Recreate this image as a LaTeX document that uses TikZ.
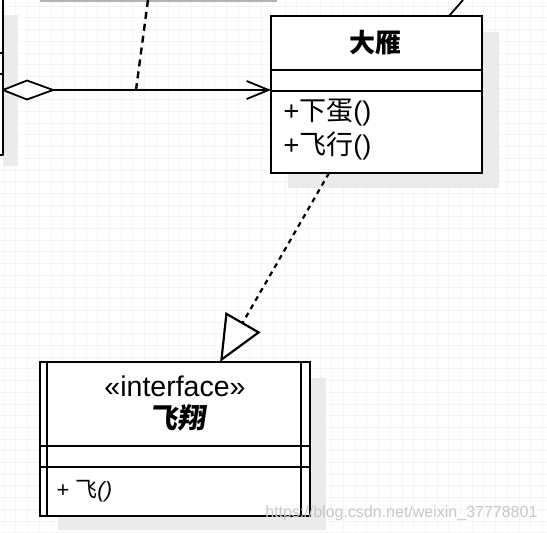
\documentclass[tikz,border=0pt]{standalone}
\usepackage{fontspec}
\setmainfont{Liberation Sans}
\newfontfamily\cjk{Noto Sans CJK SC}
\newfontfamily\cjksl{Noto Sans CJK SC}[FakeSlant=0.15]
\usetikzlibrary{arrows.meta,calc}
\begin{document}
\begin{tikzpicture}[x=1pt,y=-1pt,
  umlbox/.style={draw, line width=1.8pt, fill=white, inner sep=0pt, outer sep=0pt, anchor=north west},
  umlline/.style={line width=1.8pt, line join=round},
  shade/.style={fill=black!8, draw=none},
  gridline/.style={black!4, line width=0.6pt},
  notedash/.style={line width=2.4pt, dash pattern=on 7pt off 5pt},
  realdash/.style={line width=2.2pt, dash pattern=on 5pt off 4.5pt},
  cjkbig/.style={font=\cjk\bfseries\fontsize{26}{26}\selectfont},
  methodtext/.style={anchor=west, font=\fontsize{27}{27}\selectfont},
  stereo/.style={font=\fontsize{28.5}{28.5}\selectfont}
]
\useasboundingbox (0,0) rectangle (547,533);
\fill[white] (0,0) rectangle (547,533);
% faint grid
\foreach \i in {0,...,46} {
  \draw[gridline] (\i*11.7+4,0) -- (\i*11.7+4,533);
}
\foreach \j in {0,...,45} {
  \draw[gridline] (0,\j*11.7+6) -- (547,\j*11.7+6);
}
% shadows
\fill[shade] (3,15) rectangle (18,166);
\fill[shade] (288,32) rectangle (499,188);
\fill[shade] (58,378) rectangle (326,530);
% upper box edge (cropped)
\draw[black!30, line width=2pt] (40,0.8) -- (277,0.8);
% left cropped box
\draw[umlline] (3,0) -- (3,155) -- (0,155);
\draw[umlline] (0,53) -- (3,53);
\draw[umlline] (0,74) -- (3,74);
\coordinate (leftbox) at (3,90);
\coordinate (diamR) at (53,90);
% class box 大雁
\node[umlbox, minimum width=211pt, minimum height=157pt] (goose) at (271,16) {};
\draw[umlline] (goose.west |- 0,70) -- (goose.east |- 0,70);
\draw[umlline] (goose.west |- 0,91) -- (goose.east |- 0,91);
\node[cjkbig] (goosename) at (375,43) {大雁};
\node[methodtext] (m1) at (280,113) {+{\cjk 下蛋}()};
\node[methodtext] (m2) at (280,146) {+{\cjk 飞行}()};
% line leaving the top right of 大雁
\coordinate (gooseup) at (463,0);
\draw[umlline] (449,16) -- (gooseup);
% interface box
\node[umlbox, minimum width=270pt, minimum height=154pt] (iface) at (40,362) {};
\draw[umlline] (47,362) -- (47,516);
\draw[umlline] (301,362) -- (301,516);
\draw[umlline] (iface.west |- 0,446) -- (iface.east |- 0,446);
\draw[umlline] (iface.west |- 0,467) -- (iface.east |- 0,467);
\node[stereo] (ster) at (175,386) {«interface»};
\node[font=\cjksl\bfseries\fontsize{28}{28}\selectfont] (ifname) at (177,418) {飞翔};
\node[anchor=west, font=\fontsize{22}{22}\selectfont] (m3) at (53,491) {+\ {\cjk 飞}\textit{()}};
% aggregation / association
\draw[umlline, fill=white] (leftbox) -- (27,80.5) -- (diamR) -- (27,99.5) -- cycle;
\draw[umlline, -{Straight Barb[length=22pt,width=18pt]}]
  (diamR) -- (goose.west |- diamR);
% note link (dashed)
\coordinate (noteA) at (148,0);
\coordinate (noteB) at (136,90);
\draw[notedash] (noteA) -- (noteB);
% realization
\coordinate (realS) at ($(goose.south west)!0.275!(goose.south east)$);
\coordinate (realE) at ($(iface.north west)!0.667!(iface.north east)$);
\draw[realdash, -{Triangle[open,length=46pt,width=40pt,fill=white]}] (realS) -- (realE);
% watermark
\node[anchor=east, text=black!22, font=\fontsize{16}{16}\selectfont] (wm) at (541,513) {https://blog.csdn.net/weixin\_37778801};
\end{tikzpicture}
\end{document}
